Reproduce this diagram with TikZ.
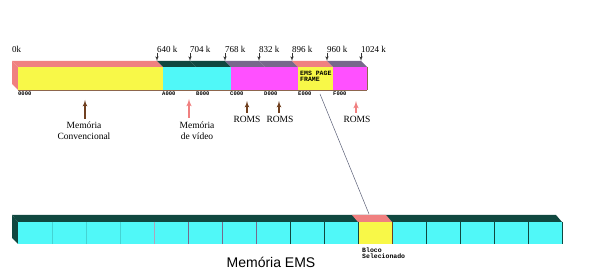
\documentclass[tikz,border=0pt]{standalone}
\usepackage{fontspec}
\setmainfont{Liberation Serif}
\newfontfamily\emsfont{Liberation Sans}
\newfontfamily\addrfont{Liberation Mono}
\usetikzlibrary{arrows, positioning, calc}
\definecolor{memyellow}{RGB}{248,248,72}
\definecolor{memcyan}{RGB}{80,248,248}
\definecolor{memmagenta}{RGB}{255,80,255}
\definecolor{memsalmon}{RGB}{240,128,128}
\definecolor{memteal}{RGB}{16,72,64}
\definecolor{memgray}{RGB}{120,104,140}
\definecolor{membrown}{RGB}{112,64,32}
\tikzstyle{kblabel} = [font=\fontsize{9}{9}\selectfont, anchor=south west, inner sep=0pt]
\tikzstyle{addr} = [font=\addrfont\bfseries\fontsize{5.5}{5.5}\selectfont, anchor=north west, inner sep=0pt]
\tikzstyle{smalltext} = [font=\addrfont\bfseries\fontsize{6.5}{6}\selectfont, anchor=north west, align=left, inner sep=0pt]
\tikzstyle{caption} = [font=\fontsize{9.5}{10.5}\selectfont, align=center, anchor=north, inner sep=0pt]
\tikzstyle{segline} = [draw=membrown!80, line width=0.6pt]
\tikzstyle{tick} = [draw=black!80, -latex', line width=0.6pt]
\tikzstyle{uparrow} = [draw=membrown, -latex', line width=1.2pt]
\tikzstyle{vidarrow} = [draw=memsalmon, -latex', line width=1.5pt]

\begin{document}
\begin{tikzpicture}[x=1pt, y=-1pt]
    \useasboundingbox (0,0) rectangle (600,280);

    % Top bar: memoria convencional + memoria superior
    \fill[memsalmon] (12,61) -- (18,67) -- (18,90) -- (12,84) -- cycle;
    \foreach \xa/\xb/\front/\topc in {18/163/memyellow/memsalmon, 163/196/memcyan/memteal,
        196/231/memcyan/memteal, 231/265/memmagenta/memgray, 265/298/memmagenta/memgray,
        298/333/memyellow/memsalmon, 333/367/memmagenta/memgray} {
        \fill[\topc] (\xa,67) -- (\xb,67) -- ({\xb-6},61) -- ({\xa-6},61) -- cycle;
        \fill[\front] (\xa,67) rectangle (\xb,90);
        \draw[segline] (\xb,67) -- (\xb,90);
    }
    \draw[segline] (18,90) -- (367,90);
    \node[smalltext] (frame) at (300,71) {EMS PAGE\\FRAME};

    % Kbytes
    \node[kblabel] (k0) at (12,53) {0k};
    \foreach \x/\lbl in {157/640, 190/704, 225/768, 259/832, 292/896, 327/960, 361/1024} {
        \coordinate (t\lbl) at (\x,61);
        \node[kblabel] (k\lbl) at (\x,53) {\lbl\ k};
        \draw[tick] (k\lbl.south west) -- (t\lbl);
    }

    % Segment addresses
    \foreach \x/\lbl in {18/0000, 162/A000, 196/B000, 230/C000, 264/D000, 298/E000, 333/F000}
        \node[addr] (a\lbl) at (\x,92) {\lbl};

    % Captions
    \node[caption] (conv) at (84,122) {Memória\\Convencional};
    \coordinate (convhead) at (85,100);
    \draw[uparrow] ($(conv.north -| convhead)+(0,-3)$) -- (convhead);

    \node[caption] (video) at (197,122) {Memória\\de vídeo};
    \coordinate (vidtail) at (189,118);
    \coordinate (vidhead) at (189,99);
    \draw[vidarrow] (vidtail) -- (vidhead);

    \node[caption] (rom1) at (247,116) {ROMS};
    \node[caption] (rom2) at (280,116) {ROMS};
    \node[caption] (rom3) at (357,116) {ROMS};
    \coordinate (romhead1) at (247,101);
    \coordinate (romhead2) at (279,101);
    \coordinate (romhead3) at (356,101);
    \draw[uparrow] ($(rom1.north -| romhead1)+(0,-3)$) -- (romhead1);
    \draw[uparrow] ($(rom2.north -| romhead2)+(0,-3)$) -- (romhead2);
    \draw[vidarrow] ($(rom3.north -| romhead3)+(0,-3)$) -- (romhead3);

    % Bottom bar: memoria EMS
    \fill[memteal] (12,215) -- (18,222) -- (18,244) -- (12,238) -- cycle;
    \fill[memteal] (12,215) -- (556,215) -- (562,222) -- (18,222) -- cycle;
    \fill[memcyan] (18,222) rectangle (562,244);
    \fill[memsalmon] (352,215) -- (386,215) -- (392,222) -- (358,222) -- cycle;
    \fill[memyellow] (358,222) rectangle (392,244);
    \foreach \k/\c in {1/memcyan!85!black, 2/memcyan!85!black, 3/memcyan!85!black,
        4/memgray!60, 5/memgray, 6/memgray, 7/memgray, 8/memteal, 9/memteal, 10/memteal,
        11/membrown, 12/memteal, 13/memteal, 14/memteal, 15/memteal, 16/memteal}
        \draw[draw=\c, line width=0.6pt] ({18+34*\k},222) -- ({18+34*\k},244);
    \node[smalltext] (bloco) at (362,248) {Bloco\\Selecionado};
    \node[font=\emsfont\fontsize{14}{14}\selectfont, anchor=base, inner sep=0pt] (ems) at (271,268) {Memória EMS};

    % Page frame -> bloco
    \coordinate (pfstart) at (320,94);
    \coordinate (blocktop) at (369,214);
    \draw[draw=memgray!70!memteal, line width=0.5pt] (pfstart) -- (blocktop);
\end{tikzpicture}
\end{document}
